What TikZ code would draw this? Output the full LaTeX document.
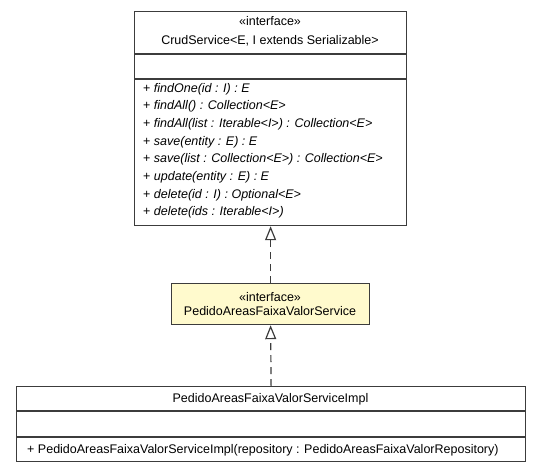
\documentclass[tikz,border=0pt]{standalone}
\usepackage{fontspec}
\setmainfont{Liberation Sans}
\usetikzlibrary{arrows.meta}
\definecolor{umlline}{HTML}{3C3C3C}
\definecolor{umlfill}{HTML}{FFFACD}
\begin{document}
\begin{tikzpicture}[x=1pt,y=-1pt,
  box/.style={draw=umlline, line width=1.2pt, fill=white, inner sep=0pt, anchor=north west},
  sep/.style={draw=umlline, line width=1.2pt},
  txt/.style={font=\fontsize{12.5}{14}\selectfont, inner sep=0pt, anchor=base},
  mtxt/.style={font=\fontsize{12.5}{14}\selectfont\itshape, inner sep=0pt, anchor=base west},
  ctxt/.style={font=\fontsize{12.5}{14}\selectfont, inner sep=0pt, anchor=base west},
  realize/.style={draw=umlline, line width=1.2pt, dash pattern=on 7pt off 5pt,
    -{Triangle[open, length=14pt, width=11pt, line width=1.2pt]}}]
\useasboundingbox (0,0) rectangle (540,472);
% CrudService
\node[box, minimum width=272pt, minimum height=214pt] (crud) at (134,11) {};
\draw[sep] (134,54) -- (406,54);
\draw[sep] (134,79) -- (406,79);
\node[txt] (crudst) at (270,25) {«interface»};
\node[txt] (crudname) at (270,44) {CrudService<E, I extends Serializable>};
\node[mtxt] (m1) at (143,92) {\upshape+ \itshape findOne(id : I) : E};
\node[mtxt] (m2) at (143,109.7) {\upshape+ \itshape findAll() : Collection<E>};
\node[mtxt] (m3) at (143,127.4) {\upshape+ \itshape findAll(list : Iterable<I>) : Collection<E>};
\node[mtxt] (m4) at (143,145.1) {\upshape+ \itshape save(entity : E) : E};
\node[mtxt] (m5) at (143,162.8) {\upshape+ \itshape save(list : Collection<E>) : Collection<E>};
\node[mtxt] (m6) at (143,180.5) {\upshape+ \itshape update(entity : E) : E};
\node[mtxt] (m7) at (143,198.2) {\upshape+ \itshape delete(id : I) : Optional<E>};
\node[mtxt] (m8) at (143,215.9) {\upshape+ \itshape delete(ids : Iterable<I>)};
% PedidoAreasFaixaValorService
\node[box, fill=umlfill, minimum width=198pt, minimum height=41pt] (svc) at (171,283) {};
\node[txt] (svcst) at (270,301) {«interface»};
\node[txt] (svcname) at (270,315) {PedidoAreasFaixaValorService};
% Impl
\node[box, minimum width=509pt, minimum height=75pt] (impl) at (16,386) {};
\draw[sep] (16,411) -- (525,411);
\draw[sep] (16,437) -- (525,437);
\node[txt] (implname) at (270.5,402) {PedidoAreasFaixaValorServiceImpl};
\node[ctxt] (implc) at (27,453) {+ PedidoAreasFaixaValorServiceImpl(repository : PedidoAreasFaixaValorRepository)};
% realizations
\draw[realize] (svc.north) -- (crud.south);
\draw[realize] (impl.north) -- (svc.south);
\end{tikzpicture}
\end{document}
